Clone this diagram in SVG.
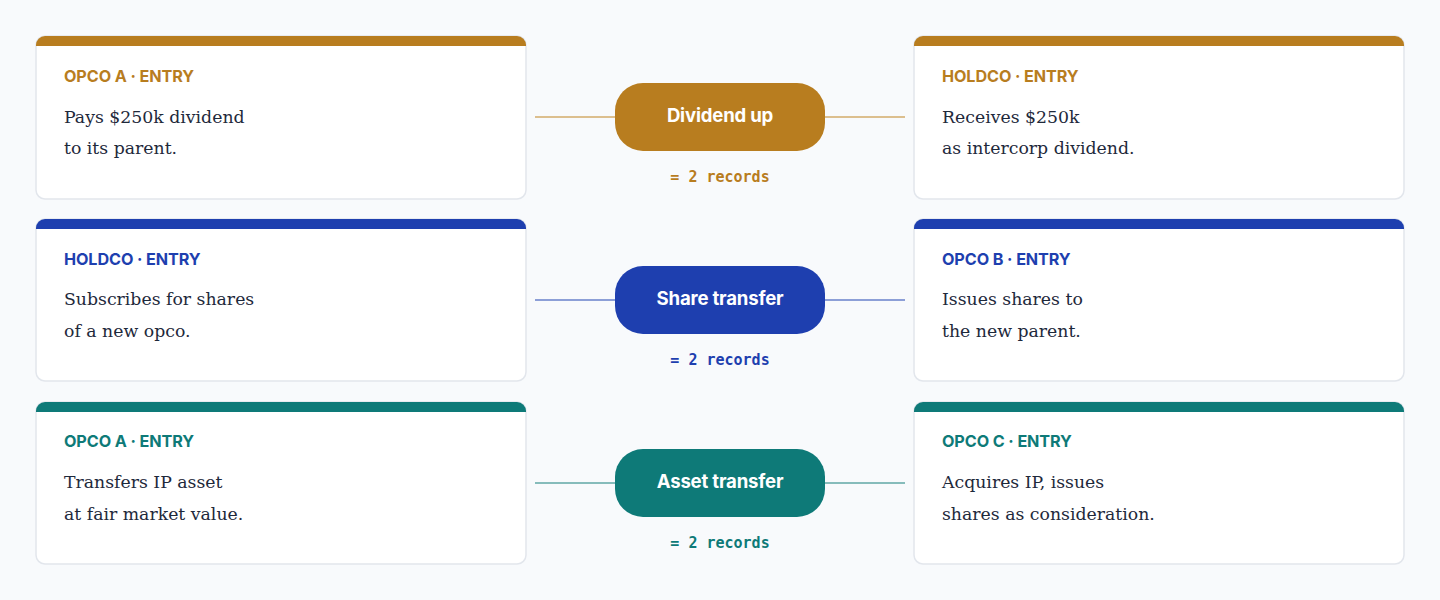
<svg xmlns="http://www.w3.org/2000/svg" width="1440" height="600" viewBox="0 0 1440 600">
<defs>
<style>
.card{fill:#ffffff;stroke:#e2e6ec;stroke-width:1.5}
.head{font-family:Inter,"Liberation Sans",sans-serif;font-size:16.2px;font-weight:700;letter-spacing:-0.1px}
.body{font-family:"DejaVu Serif","Liberation Serif",serif;font-size:17.3px;fill:#1e293b}
.pill-t{font-family:Inter,"Liberation Sans",sans-serif;font-size:18.6px;font-weight:700;fill:#ffffff;letter-spacing:-0.2px}
.rec{font-family:"DejaVu Sans Mono","Liberation Mono",monospace;font-size:15px;font-weight:700}
.gold{fill:#b87d1f}.blue{fill:#1e3faf}.teal{fill:#0e7a78}
</style>
</defs>
<rect width="1440" height="600" fill="#f8fafc"/>
<g id="connectors">
<line x1="535" y1="117" x2="615" y2="117" stroke="#dcbf8e" stroke-width="2"/>
<line x1="825" y1="117" x2="905" y2="117" stroke="#dcbf8e" stroke-width="2"/>
<line x1="535" y1="300" x2="615" y2="300" stroke="#8c9fd7" stroke-width="2"/>
<line x1="825" y1="300" x2="905" y2="300" stroke="#8c9fd7" stroke-width="2"/>
<line x1="535" y1="483" x2="615" y2="483" stroke="#86bcbb" stroke-width="2"/>
<line x1="825" y1="483" x2="905" y2="483" stroke="#86bcbb" stroke-width="2"/>
</g>
<g id="opco-a-entry-1">
<rect class="card" x="36" y="36" width="490" height="163" rx="9"/>
<path class="gold" d="M45,36 H517 A9,9 0 0 1 526,45 V46 H36 V45 A9,9 0 0 1 45,36 Z"/>
<text class="head gold" x="64" y="82">OPCO A · ENTRY</text>
<text class="body" x="64" y="123">Pays $250k dividend</text>
<text class="body" x="64" y="154">to its parent.</text>
</g>
<g id="dividend-up">
<rect class="gold" x="615" y="83" width="210" height="68" rx="28"/>
<text class="pill-t" x="720" y="122" text-anchor="middle">Dividend up</text>
<text class="rec gold" x="720" y="182" text-anchor="middle">= 2 records</text>
</g>
<g id="holdco-entry-1">
<rect class="card" x="914" y="36" width="490" height="163" rx="9"/>
<path class="gold" d="M923,36 H1395 A9,9 0 0 1 1404,45 V46 H914 V45 A9,9 0 0 1 923,36 Z"/>
<text class="head gold" x="942" y="82">HOLDCO · ENTRY</text>
<text class="body" x="942" y="123">Receives $250k</text>
<text class="body" x="942" y="154">as intercorp dividend.</text>
</g>
<g id="holdco-entry-2">
<rect class="card" x="36" y="219" width="490" height="162" rx="9"/>
<path class="blue" d="M45,219 H517 A9,9 0 0 1 526,228 V229 H36 V228 A9,9 0 0 1 45,219 Z"/>
<text class="head blue" x="64" y="265">HOLDCO · ENTRY</text>
<text class="body" x="64" y="305">Subscribes for shares</text>
<text class="body" x="64" y="337">of a new opco.</text>
</g>
<g id="share-transfer">
<rect class="blue" x="615" y="266" width="210" height="68" rx="28"/>
<text class="pill-t" x="720" y="305" text-anchor="middle">Share transfer</text>
<text class="rec blue" x="720" y="365" text-anchor="middle">= 2 records</text>
</g>
<g id="opco-b-entry">
<rect class="card" x="914" y="219" width="490" height="162" rx="9"/>
<path class="blue" d="M923,219 H1395 A9,9 0 0 1 1404,228 V229 H914 V228 A9,9 0 0 1 923,219 Z"/>
<text class="head blue" x="942" y="265">OPCO B · ENTRY</text>
<text class="body" x="942" y="305">Issues shares to</text>
<text class="body" x="942" y="337">the new parent.</text>
</g>
<g id="opco-a-entry-2">
<rect class="card" x="36" y="402" width="490" height="162" rx="9"/>
<path class="teal" d="M45,402 H517 A9,9 0 0 1 526,411 V412 H36 V411 A9,9 0 0 1 45,402 Z"/>
<text class="head teal" x="64" y="447">OPCO A · ENTRY</text>
<text class="body" x="64" y="488">Transfers IP asset</text>
<text class="body" x="64" y="520">at fair market value.</text>
</g>
<g id="asset-transfer">
<rect class="teal" x="615" y="449" width="210" height="68" rx="28"/>
<text class="pill-t" x="720" y="488" text-anchor="middle">Asset transfer</text>
<text class="rec teal" x="720" y="548" text-anchor="middle">= 2 records</text>
</g>
<g id="opco-c-entry">
<rect class="card" x="914" y="402" width="490" height="162" rx="9"/>
<path class="teal" d="M923,402 H1395 A9,9 0 0 1 1404,411 V412 H914 V411 A9,9 0 0 1 923,402 Z"/>
<text class="head teal" x="942" y="447">OPCO C · ENTRY</text>
<text class="body" x="942" y="488">Acquires IP, issues</text>
<text class="body" x="942" y="520">shares as consideration.</text>
</g>
</svg>
